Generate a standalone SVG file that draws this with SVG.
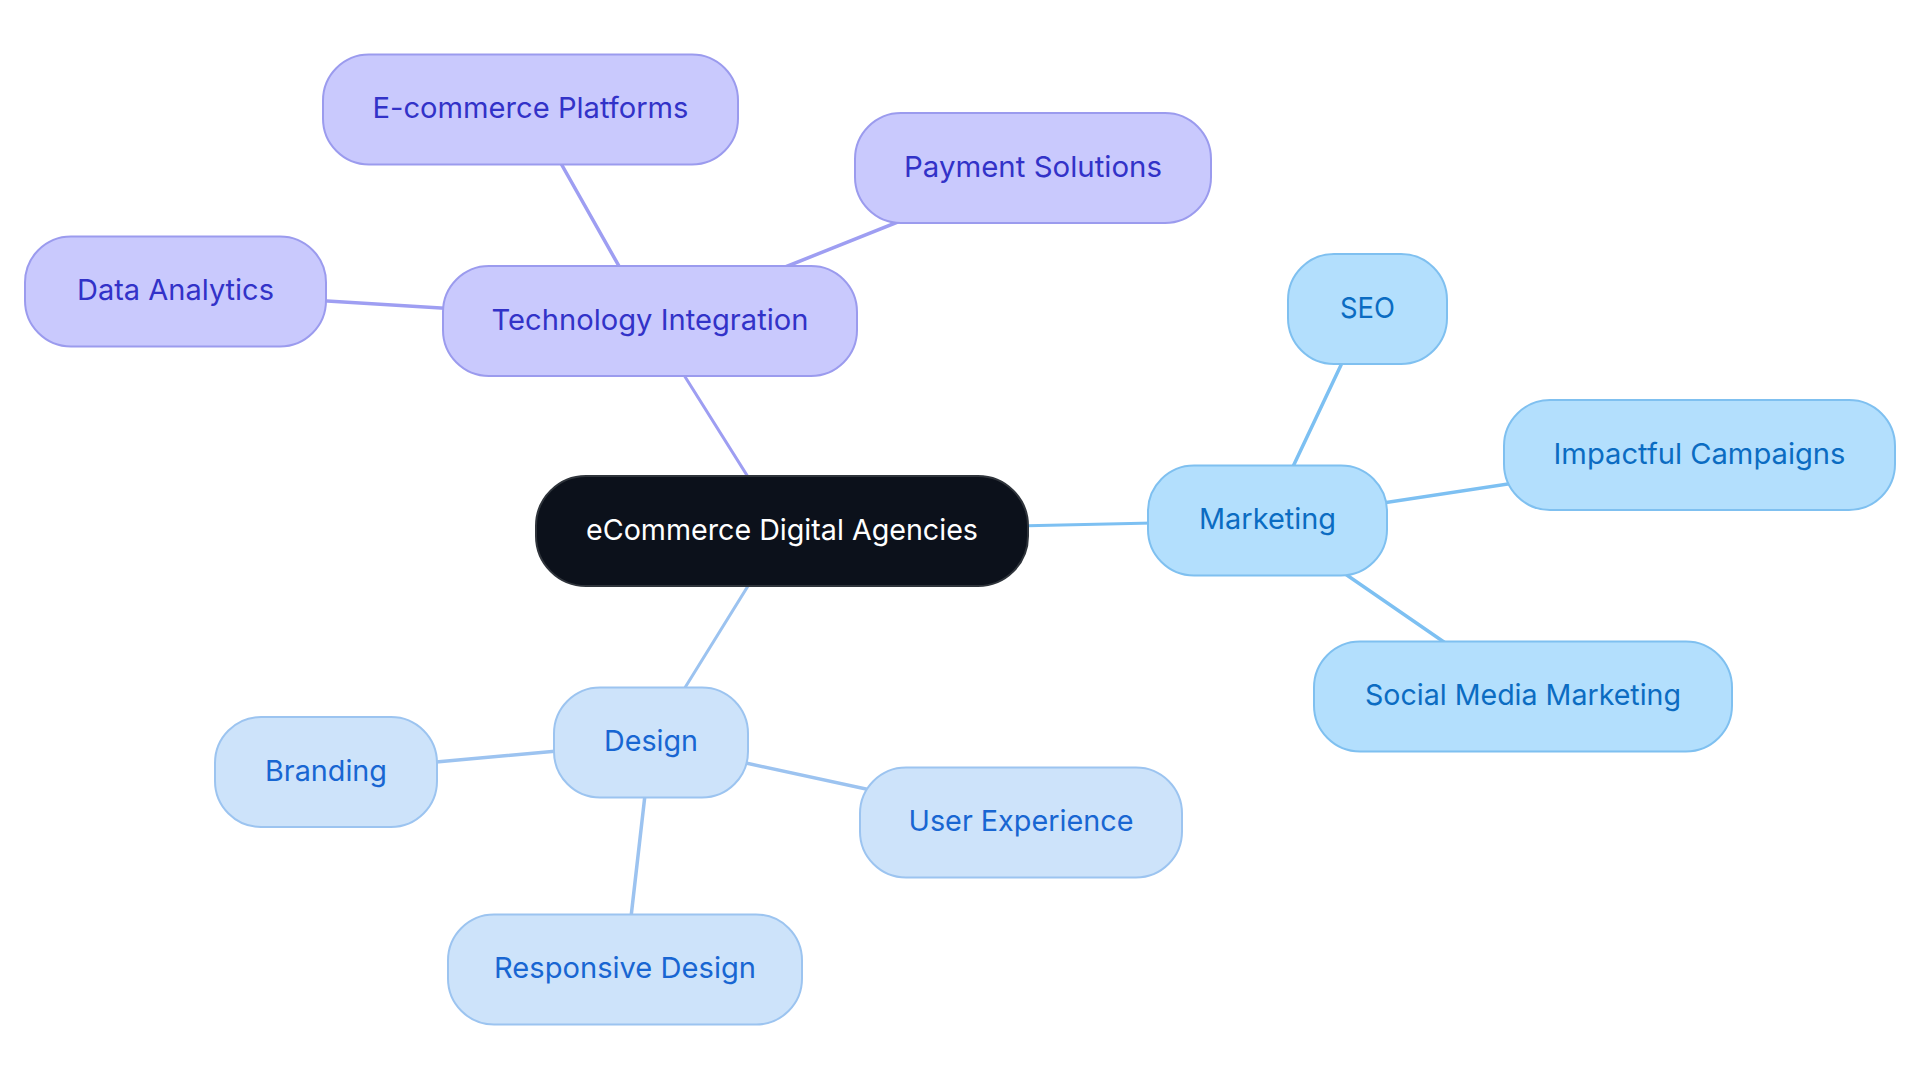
<svg xmlns="http://www.w3.org/2000/svg" width="1920" height="1083" viewBox="0 0 1920 1083">
<style>
  text { font-family: Inter, "Noto Sans", "Liberation Sans", sans-serif; font-size: 29px; text-anchor: middle; }
  .root rect { fill: #0c111b; stroke: #2f343b; stroke-width: 2; }
  .root text { fill: #ffffff; }
  .tech rect { fill: #c9c9fd; stroke: #9b9bee; stroke-width: 2; }
  .tech text { fill: #3232c8; }
  .mkt rect { fill: #b3dffd; stroke: #7fc0f0; stroke-width: 2; }
  .mkt text { fill: #0b6cc2; }
  .des rect { fill: #cde3fa; stroke: #9cc4f0; stroke-width: 2; }
  .des text { fill: #1866d2; }
  .e-tech { stroke: #9e9ef2; }
  .e-mkt { stroke: #7dc0f2; }
  .e-des { stroke: #9cc3f0; }
  #connectors line { stroke-linecap: round; }
  .d1 { stroke-width: 3; }
  .d2 { stroke-width: 3.5; }
</style>
<rect x="0" y="0" width="1920" height="1083" fill="#ffffff"/>
<g id="connectors">
  <line class="e-tech d1" x1="782" y1="531" x2="650" y2="321"/>
  <line class="e-tech d2" x1="650" y1="321" x2="530.5" y2="109.5"/>
  <line class="e-tech d2" x1="650" y1="321" x2="1033" y2="168"/>
  <line class="e-tech d2" x1="650" y1="321" x2="175.5" y2="291.5"/>
  <line class="e-mkt d1" x1="782" y1="531" x2="1267.5" y2="520.5"/>
  <line class="e-mkt d2" x1="1267.5" y1="520.5" x2="1367.5" y2="309"/>
  <line class="e-mkt d2" x1="1267.5" y1="520.5" x2="1699.5" y2="455"/>
  <line class="e-mkt d2" x1="1267.5" y1="520.5" x2="1523" y2="696.5"/>
  <line class="e-des d1" x1="782" y1="531" x2="651" y2="742.5"/>
  <line class="e-des d2" x1="651" y1="742.5" x2="326" y2="772"/>
  <line class="e-des d2" x1="651" y1="742.5" x2="625" y2="969.5"/>
  <line class="e-des d2" x1="651" y1="742.5" x2="1021" y2="822.5"/>
</g>
<g id="node-root" class="root">
  <rect x="536" y="476" width="492" height="110" rx="50" ry="50"/>
  <text x="782" y="539.5" textLength="392" lengthAdjust="spacingAndGlyphs">eCommerce Digital Agencies</text>
</g>
<g id="node-tech" class="tech">
  <rect x="443" y="266" width="414" height="110" rx="46" ry="46"/>
  <text x="650" y="329.5" textLength="317" lengthAdjust="spacingAndGlyphs">Technology Integration</text>
</g>
<g id="node-ecommerce" class="tech">
  <rect x="323" y="54.5" width="415" height="110" rx="46" ry="46"/>
  <text x="530.5" y="118" textLength="316" lengthAdjust="spacingAndGlyphs">E-commerce Platforms</text>
</g>
<g id="node-payment" class="tech">
  <rect x="855" y="113" width="356" height="110" rx="46" ry="46"/>
  <text x="1033" y="176.5" textLength="258" lengthAdjust="spacingAndGlyphs">Payment Solutions</text>
</g>
<g id="node-data" class="tech">
  <rect x="25" y="236.5" width="301" height="110" rx="46" ry="46"/>
  <text x="175.5" y="300" textLength="197" lengthAdjust="spacingAndGlyphs">Data Analytics</text>
</g>
<g id="node-marketing" class="mkt">
  <rect x="1148" y="465.5" width="239" height="110" rx="46" ry="46"/>
  <text x="1267.5" y="529" textLength="137" lengthAdjust="spacingAndGlyphs">Marketing</text>
</g>
<g id="node-seo" class="mkt">
  <rect x="1288" y="254" width="159" height="110" rx="46" ry="46"/>
  <text x="1367.5" y="317.5" textLength="55" lengthAdjust="spacingAndGlyphs">SEO</text>
</g>
<g id="node-campaigns" class="mkt">
  <rect x="1504" y="400" width="391" height="110" rx="46" ry="46"/>
  <text x="1699.5" y="463.5" textLength="292" lengthAdjust="spacingAndGlyphs">Impactful Campaigns</text>
</g>
<g id="node-social" class="mkt">
  <rect x="1314" y="641.5" width="418" height="110" rx="46" ry="46"/>
  <text x="1523" y="705" textLength="316" lengthAdjust="spacingAndGlyphs">Social Media Marketing</text>
</g>
<g id="node-design" class="des">
  <rect x="554" y="687.5" width="194" height="110" rx="46" ry="46"/>
  <text x="651" y="751" textLength="94" lengthAdjust="spacingAndGlyphs">Design</text>
</g>
<g id="node-branding" class="des">
  <rect x="215" y="717" width="222" height="110" rx="46" ry="46"/>
  <text x="326" y="780.5" textLength="122" lengthAdjust="spacingAndGlyphs">Branding</text>
</g>
<g id="node-responsive" class="des">
  <rect x="448" y="914.5" width="354" height="110" rx="46" ry="46"/>
  <text x="625" y="978" textLength="262" lengthAdjust="spacingAndGlyphs">Responsive Design</text>
</g>
<g id="node-ux" class="des">
  <rect x="860" y="767.5" width="322" height="110" rx="46" ry="46"/>
  <text x="1021" y="831" textLength="225" lengthAdjust="spacingAndGlyphs">User Experience</text>
</g>
</svg>
